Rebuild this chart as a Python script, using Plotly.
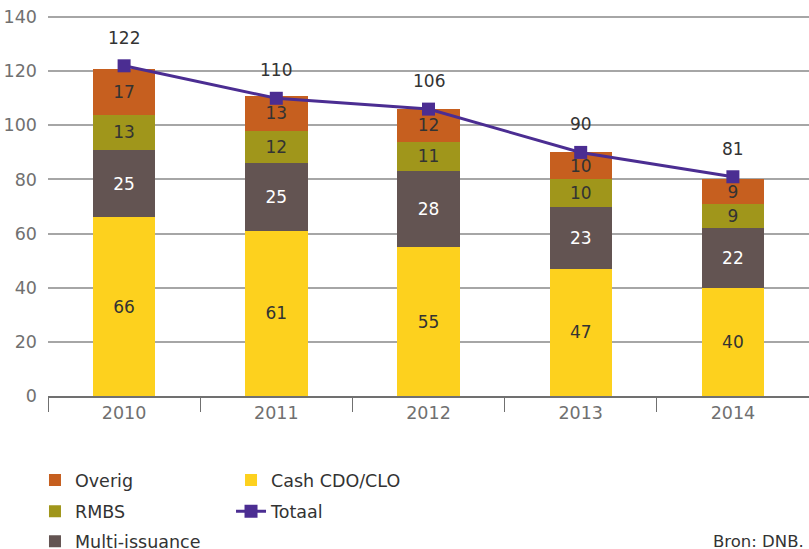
import plotly.graph_objects as go

years = ["2010", "2011", "2012", "2013", "2014"]
cash_cdo_clo = [66, 61, 55, 47, 40]
multi_issuance = [25, 25, 28, 23, 22]
rmbs = [13, 12, 11, 10, 9]
overig = [17, 13, 12, 10, 9]
totaal = [122, 110, 106, 90, 81]

FONT = "DejaVu Sans"
DARK = "#333333"
GREY = "#707070"

fig = go.Figure()


def add_bar(name, values, color, text_color, legend):
    fig.add_trace(go.Bar(
        x=years, y=values, name=name, marker=dict(color=color, line=dict(width=0)),
        text=[str(v) for v in values], textposition="inside", insidetextanchor="middle",
        textangle=0, constraintext="none",
        textfont=dict(family=FONT, size=17, color=text_color), width=0.41,
        legend=legend, hoverinfo="skip",
    ))


add_bar("Cash CDO/CLO", cash_cdo_clo, "#FDD11E", DARK, "legend4")
add_bar("Multi-issuance", multi_issuance, "#635452", "#FFFFFF", "legend3")
add_bar("RMBS", rmbs, "#A0961B", DARK, "legend2")
add_bar("Overig", overig, "#C65F1F", DARK, "legend")

fig.add_trace(go.Scatter(
    x=years, y=totaal, name="Totaal", mode="lines+markers",
    line=dict(color="#4B2D92", width=3),
    marker=dict(symbol="square", size=13, color="#4B2D92"),
    legend="legend5",
))

for i, tot in enumerate(totaal):
    fig.add_annotation(x=i, y=tot, text=str(tot), showarrow=False, yshift=28,
                       font=dict(family=FONT, size=17, color=DARK))

row_y = [-0.2216, -0.3034, -0.3826]
col_x = [-0.0171, 0.2405]

fig.add_annotation(x=1, y=row_y[2], xref="paper", yref="paper", xanchor="right", yanchor="middle",
                   xshift=-3, text="Bron: DNB.", showarrow=False,
                   font=dict(family=FONT, size=16.5, color=DARK))


def leg(x, y):
    return dict(x=x, y=y, orientation="v", bgcolor="rgba(0,0,0,0)",
                font=dict(family=FONT, size=17.5, color=DARK),
                itemwidth=30, yanchor="middle", xanchor="left")


fig.update_layout(
    width=809, height=549,
    margin=dict(l=48, r=0, t=16, b=153, autoexpand=False),
    paper_bgcolor="white", plot_bgcolor="white",
    barmode="stack", bargap=0.59,
    showlegend=True,
    legend=leg(col_x[0], row_y[0]),
    legend2=leg(col_x[0], row_y[1]),
    legend3=leg(col_x[0], row_y[2]),
    legend4=leg(col_x[1], row_y[0]),
    legend5=leg(col_x[1], row_y[1]),
    font=dict(family=FONT, size=17, color=GREY),
    xaxis=dict(type="category", range=[-0.5, 4.5], showline=True, linecolor=GREY, linewidth=1.5,
               ticks="outside", tickson="boundaries", ticklen=14, tickcolor=GREY, tickwidth=1.2,
               showgrid=False, tickangle=0,
               tickfont=dict(family=FONT, size=17.5, color=GREY)),
    yaxis=dict(range=[0, 140.4], tickvals=[0, 20, 40, 60, 80, 100, 120, 140], showgrid=True,
               gridcolor="#A6A6A6", gridwidth=1.5, zeroline=False, showline=False, ticks="",
               ticklabelstandoff=10, tickfont=dict(family=FONT, size=17.5, color=GREY)),
)

# drop the default 8px body margin so the figure sits at the page origin
fig.write_html("out.html", config={"displayModeBar": False},
               post_script="document.body.style.margin='0';")
